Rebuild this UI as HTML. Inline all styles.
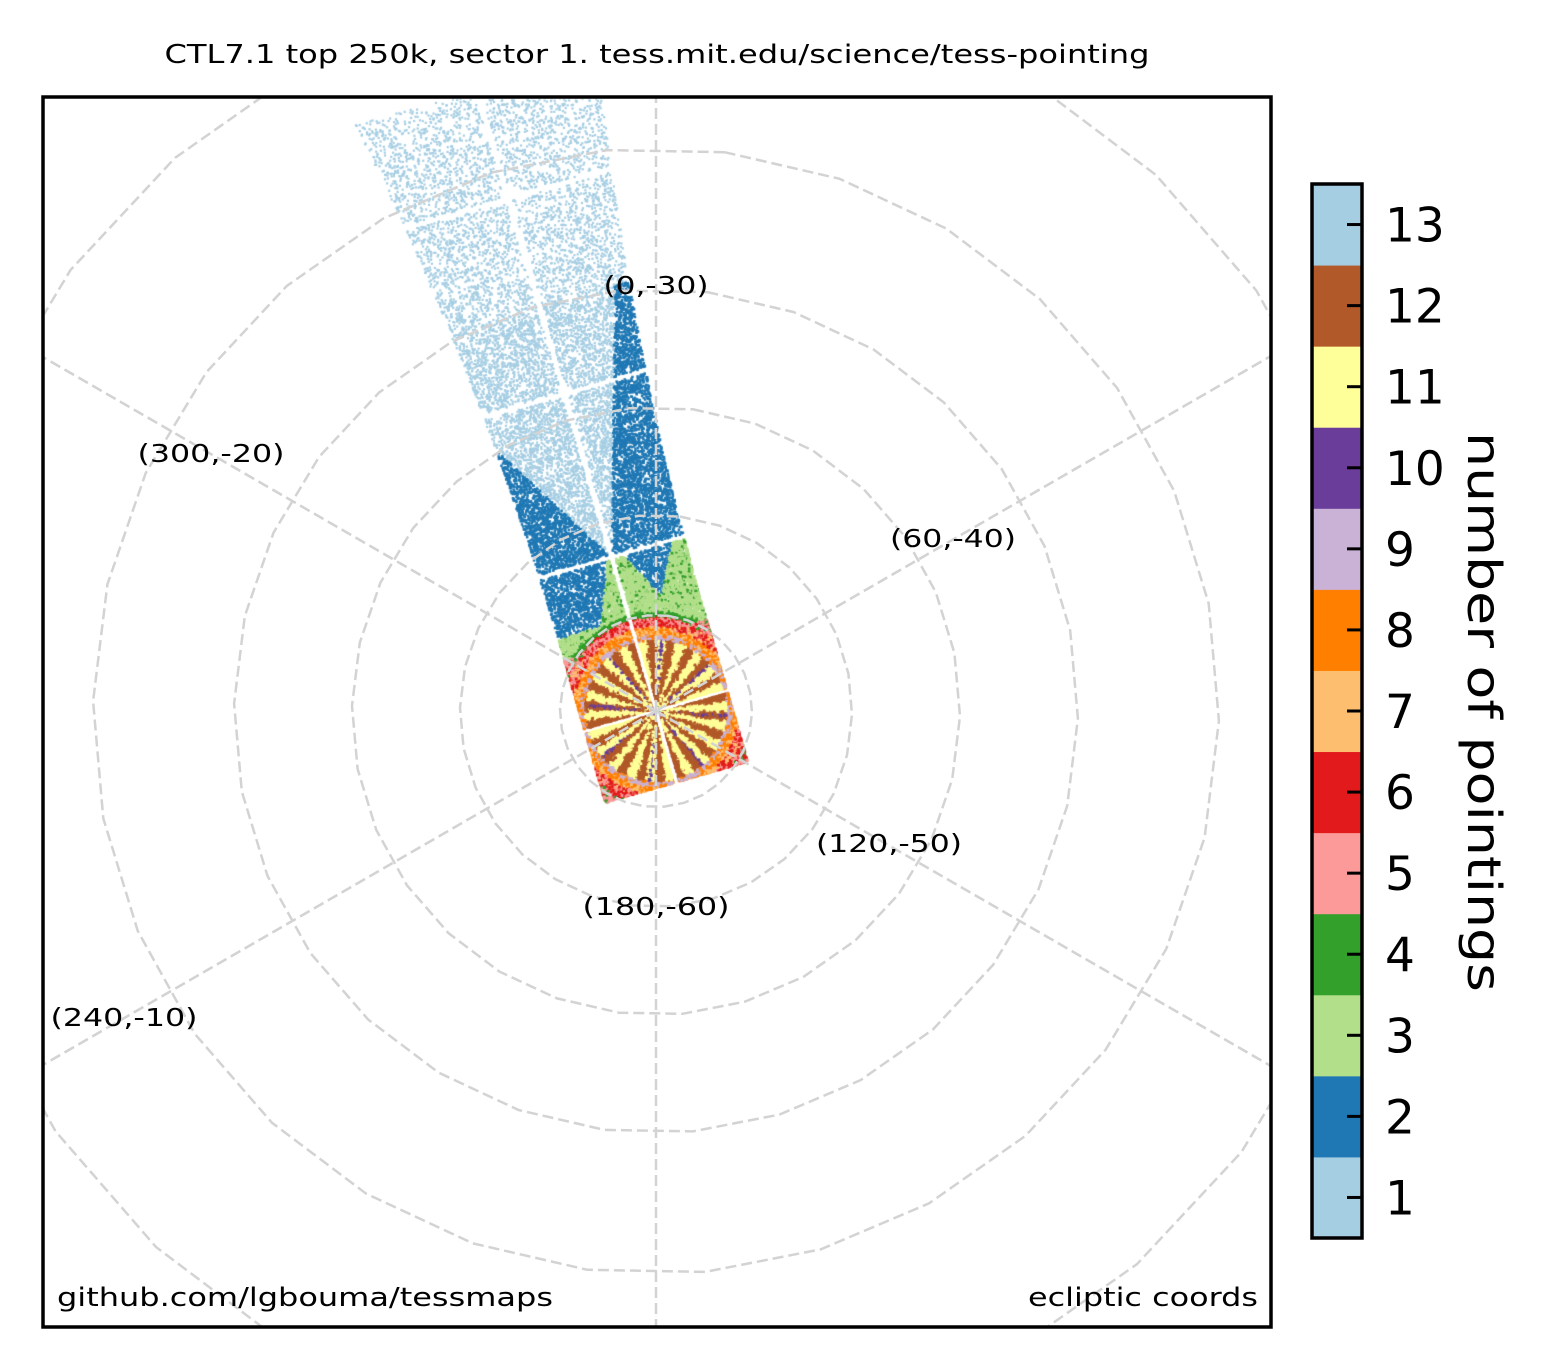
<!DOCTYPE html>
<html><head><meta charset="utf-8"><style>
html,body{margin:0;padding:0;background:#fff;overflow:hidden;width:1549px;height:1369px;}
#wrap{position:relative;width:1549px;height:1369px;overflow:hidden;}
canvas,svg{position:absolute;left:0;top:0;display:block;}
text{font-family:"DejaVu Sans","Liberation Sans",sans-serif;fill:#000;}
</style></head><body>
<div id="wrap">
<canvas id="pts" width="1549" height="1369"></canvas>
<svg id="ov" width="1549" height="1369">
  <defs><clipPath id="frameclip"><rect x="43" y="97" width="1228" height="1230"/></clipPath></defs>
  <g id="grid" clip-path="url(#frameclip)"></g>
  <rect x="43" y="97" width="1228" height="1230" fill="none" stroke="#000" stroke-width="3.5"/>
  <text x="657" y="63" font-size="26" text-anchor="middle" textLength="985" lengthAdjust="spacingAndGlyphs">CTL7.1 top 250k, sector 1. tess.mit.edu/science/tess-pointing</text>
  <g font-size="25" text-anchor="middle">
    <text x="656" y="294" textLength="105" lengthAdjust="spacingAndGlyphs">(0,-30)</text>
    <text x="211" y="462" textLength="147" lengthAdjust="spacingAndGlyphs">(300,-20)</text>
    <text x="953" y="547" textLength="126" lengthAdjust="spacingAndGlyphs">(60,-40)</text>
    <text x="889" y="852" textLength="146" lengthAdjust="spacingAndGlyphs">(120,-50)</text>
    <text x="656" y="915" textLength="147" lengthAdjust="spacingAndGlyphs">(180,-60)</text>
    <text x="124" y="1026" textLength="147" lengthAdjust="spacingAndGlyphs">(240,-10)</text>
  </g>
  <text x="57" y="1306" font-size="26" textLength="496" lengthAdjust="spacingAndGlyphs">github.com/lgbouma/tessmaps</text>
  <text x="1258" y="1306" font-size="26" text-anchor="end" textLength="230" lengthAdjust="spacingAndGlyphs">ecliptic coords</text>
  <g id="cbar"></g>
  <text transform="translate(1468,712) rotate(90)" font-size="46" text-anchor="middle" textLength="560" lengthAdjust="spacingAndGlyphs">number of pointings</text>
</svg>
</div>
<script>
// colorbar data
const cbarLevels = [1,2,3,4,5,6,7,8,9,10,11,12,13];
const cbarColors = ["#a6cee3","#1f78b4","#b2df8a","#33a02c","#fb9a99","#e31a1c","#fdbf6f","#ff7f00","#cab2d6","#6a3d9a","#ffff99","#b15928","#a6cee3"];
// grid data
const latCircles = [-80,-70,-60,-50,-40,-30,-20];
const latRadii = [96,196,304,422,563,733,930];
const meridianAngles = [90,30,-30,150,210,270];

const NS="http://www.w3.org/2000/svg";
const CX=656, CY=711;
const grid=document.getElementById('grid');
latRadii.forEach((r,i)=>{
  const pts=[];
  for(let k=0;k<30;k++){const a=(7+12*k)*Math.PI/180;pts.push((CX+r*Math.sin(a)).toFixed(1)+','+(CY-r*Math.cos(a)).toFixed(1));}
  const p=document.createElementNS(NS,'polygon');
  p.setAttribute('points',pts.join(' '));
  p.setAttribute('fill','none');p.setAttribute('stroke','#d3d3d3');p.setAttribute('stroke-width','2.5');p.setAttribute('stroke-dasharray','11,5');
  
  
  grid.appendChild(p);
});
meridianAngles.forEach(d=>{
  const a=d*Math.PI/180;
  const l=document.createElementNS(NS,'line');
  l.setAttribute('x1',CX);l.setAttribute('y1',CY);
  l.setAttribute('x2',CX+1500*Math.cos(a));l.setAttribute('y2',CY-1500*Math.sin(a));
  l.setAttribute('stroke','#d3d3d3');l.setAttribute('stroke-width','2.5');l.setAttribute('stroke-dasharray','11,5');
  
  
  grid.appendChild(l);
});
// colorbar
const cb=document.getElementById('cbar');
const CB_X=1312,CB_W=50,CB_TOP=184,CB_BOT=1238;
const segH=(CB_BOT-CB_TOP)/cbarLevels.length;
cbarLevels.forEach((lv,i)=>{
  const y=CB_BOT-(i+1)*segH;
  const r=document.createElementNS(NS,'rect');
  r.setAttribute('x',CB_X);r.setAttribute('y',y);r.setAttribute('width',CB_W);r.setAttribute('height',segH+0.5);r.setAttribute('fill',cbarColors[i]);
  
  
  cb.appendChild(r);
  const t=document.createElementNS(NS,'line');
  t.setAttribute('x1',CB_X+CB_W-15);t.setAttribute('x2',CB_X+CB_W);t.setAttribute('y1',y+segH/2);t.setAttribute('y2',y+segH/2);t.setAttribute('stroke','#000');t.setAttribute('stroke-width','3');
  
  
  cb.appendChild(t);
  const tx=document.createElementNS(NS,'text');
  tx.setAttribute('x',1385);tx.setAttribute('y',y+segH/2+17);tx.setAttribute('font-size','47');
  tx.textContent=lv;
  
  
  cb.appendChild(tx);
});
const fr=document.createElementNS(NS,'rect');
fr.setAttribute('x',CB_X);fr.setAttribute('y',CB_TOP);fr.setAttribute('width',CB_W);fr.setAttribute('height',CB_BOT-CB_TOP);fr.setAttribute('fill','none');fr.setAttribute('stroke','#000');fr.setAttribute('stroke-width','3.5');


cb.appendChild(fr);

// scatter (star field coloured by number of pointings)
const ctx=document.getElementById('pts').getContext('2d');
ctx.save();ctx.beginPath();ctx.rect(44,99,1225,1226);ctx.clip();
let seed=987654321;
function rnd(){seed|=0;seed=(seed+0x6D2B79F5)|0;let t=Math.imul(seed^(seed>>>15),1|seed);t=(t+Math.imul(t^(t>>>7),61|t))^t;return ((t^(t>>>14))>>>0)/4294967296;}
const E1=[0.961,-0.277],E2=[-0.277,-0.961];
const gaps=[0,160,330,533];
function hw(v){return v<74?74:74+0.00016*(v-74)*(v-74);}
function level(u,v){
  if(v<74){
    const r=Math.hypot(u,v);
    if(r<71){
      if(r<6) return [10,9,4][Math.floor(rnd()*3)];
      let ang=Math.atan2(v,u);
      const ray=((ang*180/Math.PI)+360+22)%45;
      if(ray<3 && r>12 && rnd()<0.7) return 10;
      const s=Math.floor(((ang+Math.PI)/(2*Math.PI))*44+(rnd()-0.5)*0.35);
      return s%2?12:11;
    }
    if(r<76) return rnd()<0.6?9:8;
    if(r<82) return rnd()<0.6?8:7;
    if(r<92) return [6,5,7,6][Math.floor(rnd()*4)];
    return [5,6,4,5][Math.floor(rnd()*4)];
  }
  const r=Math.hypot(u,v);
  if(r<76) return rnd()<0.6?9:8;
  if(r<84) return rnd()<0.6?8:7;
  if(r<94) return [6,5,6,5][Math.floor(rnd()*4)];
  if(v<160){
    let green;
    if(u>0) green=(v-74)<34+2*Math.abs(u-37);
    else green=(v-74)<22+Math.max(0,2.5*(u+30));
    if(green) return (r<99||rnd()<0.08)?4:3;
    return 2;
  }
  if(v<420){
    if(u>-0.6*(v-160)&&u<0.3*(v-160)) return 1;
    return 2;
  }
  return 1;
}
for(let i=0;i<160000;i++){
  const v=-74+rnd()*720;
  const h=hw(v);
  const u=(rnd()*2-1)*h;
  if(Math.abs(u)<3) continue;
  let g=false;for(const gv of gaps){if(Math.abs(v-gv)<2.5)g=true;}
  if(g) continue;
  const lv=level(u,v);
  let dens = v<74?1: (lv===1? (v>420?0.09:0.14) : (lv===2?0.22:(lv===3?0.5:0.8)));
  if(rnd()>dens) continue;
  const x=CX+u*E1[0]+v*E2[0], y=CY+u*E1[1]+v*E2[1];
  ctx.fillStyle=cbarColors[lv-1];
  const s = v<74?2.8:(lv===1?2.2:2.5);
  ctx.fillRect(x-s/2,y-s/2,s,s);
}
ctx.restore();
</script>
</body></html>
